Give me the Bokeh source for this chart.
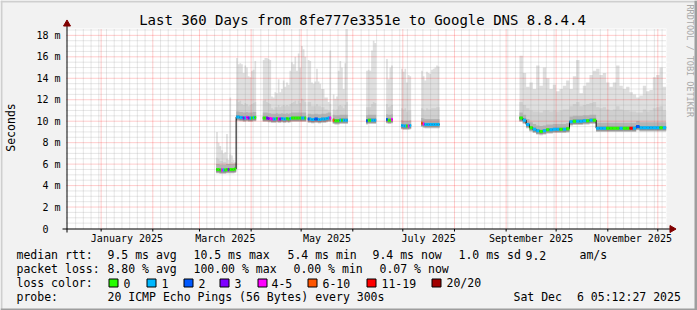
import math
import pandas as pd
from bokeh.plotting import figure
from bokeh.models import Range1d
from bokeh.core.properties import value
from bokeh.embed import file_html
from bokeh.resources import INLINE

# ---------------- data ----------------
chart_start = "2024-12-11 05:12:27"
chart_end = "2025-12-06 05:12:27"
title_text = "Last 360 Days from 8fe777e3351e to Google DNS 8.8.4.4"
y_axis_title = "Seconds"

y_tick_values = [0, 2, 4, 6, 8, 10, 12, 14, 16, 18]
y_tick_labels = ["0", "2 m", "4 m", "6 m", "8 m", "10 m", "12 m", "14 m", "16 m", "18 m"]
y_max = 18.64

x_label_months = ["2025-01-01", "2025-03-01", "2025-05-01", "2025-07-01", "2025-09-01", "2025-11-01"]
x_label_texts = ["January 2025", "March 2025", "May 2025", "July 2025", "September 2025", "November 2025"]

spring_segment_start = ["2025-03-11", "2025-03-23", "2025-04-08", "2025-05-05", "2025-05-20",
                        "2025-06-09", "2025-06-21", "2025-06-30", "2025-07-12"]
spring_segment_days = [12, 12, 26, 14, 9, 6, 4, 6, 11]
spring_median = [
    5.5, 5.5, 5.45, 5.45, 5.45, 5.45, 5.5, 5.5, 5.5, 5.5, 5.5, 5.55,
    10.4, 10.4, 10.35, 10.35, 10.3, 10.3, 10.35, 10.3, 10.3, 10.3, 10.35, 10.35,
    10.3, 10.3, 10.3, 10.25, 10.25, 10.2, 10.2, 10.2, 10.25, 10.2, 10.2, 10.25, 10.2,
    10.2, 10.25, 10.2, 10.25, 10.3, 10.3, 10.3, 10.3, 10.3, 10.3, 10.3, 10.3, 10.3,
    10.2, 10.2, 10.15, 10.15, 10.2, 10.2, 10.15, 10.15, 10.2, 10.2, 10.2, 10.25, 10.3, 10.3,
    10.1, 10.05, 10.05, 10.05, 10.1, 10.1, 10.1, 10.1, 10.1,
    10.05, 10.1, 10.1, 10.1, 10.1, 10.1,
    10.15, 10.1, 10.1, 10.15,
    9.6, 9.55, 9.55, 9.55, 9.55, 9.6,
    9.8, 9.75, 9.7, 9.7, 9.7, 9.7, 9.7, 9.7, 9.7, 9.7, 9.7]
spring_smoke_top = [
    9.0, 8.0, 7.7, 7.3, 7.0, 7.1, 8.8, 6.4, 12.2, 6.8, 6.4, 6.2,
    15.9, 15.3, 15.4, 15.3, 14.5, 15.2, 15.0, 14.2, 14.1, 14.7, 14.8, 15.6,
    15.7, 15.9, 15.9, 15.8, 15.7, 12.3, 12.2, 12.7, 12.6, 13.9, 12.7, 13.0, 13.8,
    13.2, 13.6, 13.4, 14.7, 15.5, 15.3, 16.0, 14.7, 16.3, 15.0, 17.0, 16.7, 16.0,
    15.7, 15.6, 13.6, 13.5, 13.7, 14.9, 13.7, 13.5, 13.0, 13.0, 12.2, 12.2, 11.8, 16.6,
    12.5, 12.1, 12.3, 14.7, 15.6, 15.0, 13.0, 15.4, 18.6,
    14.7, 14.8, 14.7, 16.6, 17.5, 17.3,
    15.8, 13.9, 15.0, 15.2,
    14.9, 14.6, 14.9, 13.6, 14.3, 14.2,
    14.7, 14.2, 13.8, 14.6, 14.5, 14.4, 14.8, 14.9, 15.0, 15.2, 15.1]
spring_smoke_mid = [
    6.6, 6.5, 6.3, 6.3, 6.2, 6.2, 6.5, 6.0, 6.9, 6.2, 6.1, 6.0,
    12.0, 11.8, 11.9, 11.6, 11.5, 11.7, 11.6, 11.4, 11.5, 11.6, 11.7, 11.8,
    11.9, 12.0, 11.8, 11.7, 11.6, 11.2, 11.1, 11.3, 11.3, 11.5, 11.3, 11.4, 11.5,
    11.4, 11.5, 11.4, 11.6, 11.7, 11.8, 11.9, 11.6, 11.9, 11.7, 12.1, 12.0, 11.8,
    11.8, 11.8, 11.4, 11.4, 11.4, 11.6, 11.4, 11.4, 11.3, 11.3, 11.1, 11.1, 11.0, 11.6,
    11.1, 11.0, 11.1, 11.4, 11.5, 11.4, 11.2, 11.5, 11.8,
    11.3, 11.3, 11.3, 11.6, 11.8, 11.7,
    11.6, 11.3, 11.4, 11.5,
    11.2, 11.1, 11.2, 10.9, 11.0, 11.0,
    11.2, 11.1, 11.0, 11.2, 11.1, 11.1, 11.2, 11.2, 11.2, 11.3, 11.3]
spring_loss = [
    0, 0, 0, 4, 1, 0, 0, 3, 0, 0, 0, 0,
    1, 1, 1, 1, 3, 1, 4, 3, 1, 0, 1, 0,
    0, 0, 3, 3, 4, 4, 1, 1, 0, 4, 3, 1, 1,
    1, 0, 0, 1, 0, 0, 0, 0, 0, 0, 1, 1, 0,
    2, 1, 1, 1, 2, 2, 1, 1, 1, 1, 1, 1, 1, 4,
    5, 0, 0, 0, 1, 0, 1, 1, 1,
    2, 0, 0, 1, 1, 1,
    2, 0, 0, 4,
    1, 1, 1, 0, 4, 1,
    5, 4, 1, 1, 1, 1, 1, 1, 1, 1, 1]

autumn_start = "2025-09-09"
autumn_step_days = 2
autumn_median = [
    10.3, 10.1, 9.7, 9.4, 9.25, 9.1, 9.05, 9.1, 9.2, 9.2, 9.25,
    9.25, 9.25, 9.25, 9.3, 9.95, 10.0, 10.0, 10.0, 10.05, 10.05, 10.1, 10.1,
    9.35, 9.35, 9.35, 9.35, 9.35, 9.35, 9.35, 9.35, 9.35, 9.35, 9.35, 9.35,
    9.5, 9.4, 9.4, 9.4, 9.4, 9.4, 9.4, 9.4, 9.4]
autumn_smoke_top = [
    16.1, 14.5, 13.2, 13.6, 13.0, 15.2, 13.3, 15.0, 14.0, 13.0, 13.4,
    12.8, 13.0, 13.3, 13.8, 13.0, 14.2, 15.7, 12.6, 13.3, 13.6, 14.3, 14.7,
    14.9, 14.3, 14.5, 13.6, 13.2, 13.6, 15.2, 13.3, 13.0, 13.2, 12.7, 12.5,
    12.2, 12.4, 13.3, 12.8, 12.9, 14.1, 14.3, 15.0, 13.2]
autumn_smoke_mid = [
    11.8, 11.5, 11.2, 11.0, 10.9, 10.9, 10.8, 11.0, 11.0, 10.9, 11.0,
    10.9, 11.0, 11.1, 11.1, 11.4, 11.6, 11.8, 11.4, 11.5, 11.6, 11.7, 11.8,
    11.3, 11.2, 11.3, 11.1, 11.0, 11.1, 11.4, 11.1, 11.0, 11.0, 10.9, 10.9,
    10.8, 10.8, 11.1, 10.9, 11.0, 11.2, 11.3, 11.4, 11.0]
autumn_loss = [
    0, 1, 1, 0, 1, 1, 0, 1, 0, 1, 1,
    1, 0, 1, 0, 1, 0, 1, 1, 1, 0, 1, 0,
    1, 1, 1, 0, 0, 0, 0, 1, 0, 0, 6, 1,
    2, 1, 1, 1, 1, 1, 1, 0, 1]

loss_labels = ["0", "1", "2", "3", "4-5", "6-10", "11-19", "20/20"]
loss_colors = ["#26ff00", "#00b8ff", "#0059ff", "#7e00ff", "#ff00ff", "#ff5500", "#ff0000", "#a10000"]

rtt_texts = ["median rtt:", "9.5 ms avg", "10.5 ms max", "5.4 ms min", "9.4 ms now", "1.0 ms sd", "9.2", "am/s"]
loss_texts = ["packet loss:", "8.80 % avg", "100.00 % max", "0.00 % min", "0.07 % now"]
probe_texts = ["probe:", "20 ICMP Echo Pings (56 Bytes) every 300s", "Sat Dec", "6 05:12:27 2025"]
loss_color_title = "loss color:"
watermark = "RRDTOOL / TOBI OETIKER"

# ---------------- layout helpers (canvas pixels -> data space) ----------------
DAY = 86400000.0
W, H = 697, 310
PLOT_L, PLOT_R, PLOT_T, PLOT_B = 66, 666, 28, 228


def ts(s):
    return pd.Timestamp(s).value / 1e6


T0, T1 = ts(chart_start), ts(chart_end)
MS_PER_PX = (T1 - T0) / (PLOT_R - PLOT_L)
V_PER_PX = y_max / (PLOT_B - PLOT_T)


def cx(px):
    return T0 + (px - PLOT_L) * MS_PER_PX


def cy(py):
    return (PLOT_B - py) * V_PER_PX


samples = []
i = 0
for start, n in zip(spring_segment_start, spring_segment_days):
    for k in range(n):
        left = ts(start) + k * DAY
        samples.append((left, left + DAY, spring_median[i], spring_smoke_top[i],
                        spring_smoke_mid[i], spring_loss[i]))
        i += 1
for k in range(len(autumn_median)):
    left = ts(autumn_start) + k * autumn_step_days * DAY
    samples.append((left, left + autumn_step_days * DAY, autumn_median[k],
                    autumn_smoke_top[k], autumn_smoke_mid[k], autumn_loss[k]))

runs = []
cur = [samples[0]]
for s in samples[1:]:
    if abs(s[0] - cur[-1][1]) < 1000:
        cur.append(s)
    else:
        runs.append(cur)
        cur = [s]
runs.append(cur)

# ---------------- figure ----------------
p = figure(width=W, height=H, output_backend="svg", toolbar_location=None, title=None,
           x_range=Range1d(cx(0), cx(W)), y_range=Range1d(cy(H), cy(0)),
           x_axis_type=None, y_axis_type=None, min_border=0,
           min_border_left=0, min_border_right=0, min_border_top=0, min_border_bottom=0,
           background_fill_color="#f2f2f2", border_fill_color="#f2f2f2", outline_line_color=None)
p.grid.visible = False

FONT = value("DejaVu Sans Mono")

# canvas shading border
p.quad(left=[cx(0), cx(0), cx(694), cx(0)], right=[cx(W), cx(2), cx(W), cx(W)],
       top=[cy(0), cy(0), cy(0), cy(308)], bottom=[cy(2), cy(H), cy(H), cy(H)],
       fill_color=["#cfcfcf", "#cfcfcf", "#9e9e9e", "#9e9e9e"], line_color=None)

# plot canvas
p.quad(left=[T0], right=[T1], bottom=[0], top=[y_max], fill_color="white", line_color=None)

# smoke
for run in runs:
    xs, med, top, mid = [], [], [], []
    for (l, r, m, t, md, lo) in run:
        xs += [l, r]
        med += [m, m]
        top += [t, t]
        mid += [md, md]
    p.varea(x=xs, y1=[m - 0.35 for m in med], y2=top, fill_color="#dfdfdf")
    p.varea(x=xs, y1=[m - 0.35 for m in med], y2=mid, fill_color="#d0d0d0")
    p.varea(x=xs, y1=[m - 0.3 for m in med], y2=[m + 0.5 for m in med], fill_color="#b4b4b4")
    p.varea(x=xs, y1=[m - 0.25 for m in med], y2=[m + 0.15 for m in med], fill_color="#8e8e8e")

# grid
month_starts = [ts(d) for d in pd.date_range("2025-01-01", "2025-12-01", freq="MS")]
minor_step = 4.63 * DAY
anchor = ts("2025-02-01")
minor_x = []
k = -20
while True:
    v = anchor + k * minor_step
    k += 1
    if v < T0 + DAY:
        continue
    if v > T1:
        break
    if min(abs(v - m) for m in month_starts) > 0.5 * DAY:
        minor_x.append(v)
minor_y = [v / 2 for v in range(1, 38) if v % 4 != 0]
major_y = [v for v in y_tick_values if v > 0]

p.segment(x0=minor_x, x1=minor_x, y0=[0] * len(minor_x), y1=[y_max] * len(minor_x),
          line_color="#a0a0a0", line_alpha=0.5, line_dash="1 1", line_width=1)
p.segment(x0=[T0] * len(minor_y), x1=[T1] * len(minor_y), y0=minor_y, y1=minor_y,
          line_color="#a0a0a0", line_alpha=0.5, line_dash="1 1", line_width=1)
p.segment(x0=month_starts, x1=month_starts, y0=[0] * len(month_starts), y1=[y_max] * len(month_starts),
          line_color="#ff0000", line_alpha=0.4, line_dash="1 1", line_width=1)
p.segment(x0=[T0] * len(major_y), x1=[T1] * len(major_y), y0=major_y, y1=major_y,
          line_color="#ff0000", line_alpha=0.4, line_dash="1 1", line_width=1)

# median black step line
lx, ly = [], []
for run in runs:
    for (l, r, m, t, md, lo) in run:
        lx += [l, r]
        ly += [m, m]
    lx.append(float("nan"))
    ly.append(float("nan"))
p.line(lx, ly, line_color="black", line_width=1)

# coloured median by loss
p.segment(x0=[s[0] for s in samples], x1=[s[1] for s in samples],
          y0=[s[2] for s in samples], y1=[s[2] for s in samples],
          line_color=[loss_colors[s[5]] for s in samples], line_width=3)

# axes lines, ticks and arrows
p.segment(x0=[cx(62)], x1=[cx(671)], y0=[cy(228.5)], y1=[cy(228.5)], line_color="black", line_width=1)
p.segment(x0=[cx(66.5)], x1=[cx(66.5)], y0=[cy(232)], y1=[cy(25)], line_color="black", line_width=1)
p.segment(x0=month_starts, x1=month_starts, y0=[cy(228.5)] * len(month_starts),
          y1=[cy(231)] * len(month_starts), line_color="black", line_width=1)
p.scatter(x=[cx(671.5)], y=[cy(228.5)], marker="triangle", size=7, angle=-math.pi / 2,
          fill_color="#800000", line_color="#800000")
p.scatter(x=[cx(66.5)], y=[cy(23.5)], marker="triangle", size=7,
          fill_color="#800000", line_color="#800000")

# tick labels
p.text(x=[cx(60)] * len(y_tick_values), y=y_tick_values,
       text=[t if t != "0" else "0" for t in y_tick_labels],
       text_font=FONT, text_font_size=value("10px"), text_align="right", text_baseline="middle",
       text_color="black", x_offset=[0 if t != "0" else -12 for t in y_tick_labels])
label_pos = []
for d in x_label_months:
    a = pd.Timestamp(d)
    b = a + pd.offsets.MonthBegin(1)
    label_pos.append((ts(a) + ts(b)) / 2.0)
p.text(x=label_pos, y=[cy(238)] * len(label_pos), text=x_label_texts, text_font=FONT,
       text_font_size=value("10px"), text_align="center", text_baseline="middle", text_color="black")

# titles
p.text(x=[cx(362)], y=[cy(19)], text=[title_text], text_font=FONT, text_font_size=value("14px"),
       text_align="center", text_baseline="middle", text_color="black")
p.text(x=[cx(10)], y=[cy(127)], text=[y_axis_title], text_font=FONT, text_font_size=value("11.5px"),
       text_align="center", text_baseline="middle", angle=math.pi / 2, text_color="black")
p.text(x=[cx(689)], y=[cy(4)], text=[watermark], text_font=FONT, text_font_size=value("8.5px"),
       text_align="left", text_baseline="middle", angle=-math.pi / 2, text_color="#a8a8a8")

# legend
def row(xs_px, texts, y_px):
    p.text(x=[cx(v) for v in xs_px], y=[cy(y_px)] * len(texts), text=texts, text_font=FONT,
           text_font_size=value("11.5px"), text_align="left", text_baseline="middle",
           text_color="black")


row([16, 107, 193, 287, 372, 458, 525, 579], rtt_texts, 254.5)
row([16, 107, 193, 293, 379], loss_texts, 268.5)
row([16], [loss_color_title], 282.5)
row([123, 161, 198, 234, 271, 322, 381, 446], loss_labels, 282.5)
row([16, 107, 513, 576.5], probe_texts, 296)
sw = [108, 146, 183, 219, 257, 307, 366, 431]
p.quad(left=[cx(v + 0.5) for v in sw], right=[cx(v + 9.5) for v in sw],
       top=[cy(278.5)] * len(sw), bottom=[cy(286.5)] * len(sw),
       fill_color=loss_colors, line_color="black", line_width=1)

open("out.html", "w").write(file_html(p, INLINE))
